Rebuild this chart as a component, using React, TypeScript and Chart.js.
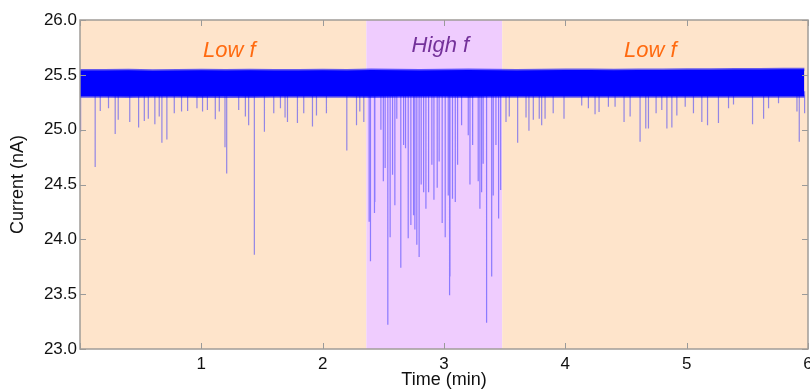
import React, { useEffect, useRef } from 'react';
import { Chart, registerables } from 'chart.js';

Chart.register(...registerables);

// ---- data ----
const xTickValues = [0, 1, 2, 3, 4, 5, 6];
const yTickValues = [23.0, 23.5, 24.0, 24.5, 25.0, 25.5, 26.0];

const regionStart = [0, 2.36, 3.48];
const regionEnd = [2.36, 3.48, 6];
const regionKind = ['low', 'high', 'low'];

const labelText = ['Low f', 'High f', 'Low f'];
const labelTime = [1.23, 2.97, 4.7];
const labelCurrent = [25.72, 25.76, 25.72];

// envelope of the dense noise band (min)
const bandTime = [
  0, 0.2, 0.4, 0.6, 0.8, 1.0, 1.2, 1.4, 1.6, 1.8, 2.0, 2.2, 2.4, 2.6, 2.8, 3.0,
  3.2, 3.4, 3.6, 3.8, 4.0, 4.2, 4.4, 4.6, 4.8, 5.0, 5.2, 5.4, 5.6, 5.8, 5.97,
];
const bandUpper = [
  25.54, 25.54, 25.542, 25.538, 25.54, 25.542, 25.54, 25.542, 25.54, 25.54, 25.542,
  25.54, 25.544, 25.542, 25.54, 25.542, 25.544, 25.542, 25.54, 25.542, 25.544, 25.544,
  25.542, 25.544, 25.544, 25.546, 25.546, 25.548, 25.548, 25.55, 25.55,
];
const bandLower = [
  25.305, 25.305, 25.302, 25.305, 25.305, 25.303, 25.305, 25.302, 25.305, 25.304, 25.305,
  25.304, 25.302, 25.305, 25.304, 25.305, 25.302, 25.305, 25.305, 25.304, 25.305, 25.304,
  25.305, 25.304, 25.305, 25.305, 25.304, 25.305, 25.305, 25.304, 25.305,
];

// downward spikes: time (min) and lowest current (nA)
const spikeTime = [
  0.005, 0.125, 0.167, 0.235, 0.29, 0.315, 0.41, 0.483, 0.53, 0.563, 0.617, 0.653,
  0.675, 0.716, 0.777, 0.837, 0.887, 0.964, 1.01, 1.05, 1.115, 1.148, 1.195, 1.209,
  1.308, 1.363, 1.39, 1.437, 1.52, 1.597, 1.652, 1.69, 1.71, 1.792, 1.844, 1.916,
  1.949, 2.031, 2.199, 2.279, 2.306, 2.339,
  2.383, 2.394, 2.427, 2.43, 2.48, 2.5, 2.515, 2.537, 2.556, 2.576, 2.595, 2.611,
  2.644, 2.667, 2.683, 2.705, 2.727, 2.749, 2.76, 2.776, 2.795, 2.812, 2.832, 2.851,
  2.873, 2.9, 2.917, 2.944, 2.96, 2.985, 3.01, 3.035, 3.046, 3.049, 3.07, 3.093,
  3.112, 3.145, 3.2, 3.214, 3.236, 3.282, 3.296, 3.31, 3.323, 3.351, 3.393, 3.406,
  3.428, 3.45, 3.467,
  3.511, 3.538, 3.607, 3.676, 3.7, 3.736, 3.785, 3.805, 3.833, 3.9, 3.989, 4.135,
  4.19, 4.245, 4.278, 4.355, 4.41, 4.484, 4.534, 4.616, 4.663, 4.685, 4.748, 4.795,
  4.837, 4.878, 4.919, 4.988, 5.056, 5.125, 5.172, 5.262, 5.345, 5.386, 5.543, 5.634,
  5.675, 5.757, 5.909, 5.928, 5.972,
];
const spikeMin = [
  24.98, 24.66, 25.17, 25.195, 24.96, 25.09, 25.07, 25.02, 25.08, 25.1, 25.05, 25.12,
  24.88, 24.91, 25.15, 25.165, 25.17, 25.195, 25.165, 25.18, 25.095, 25.165, 24.84, 24.6,
  25.18, 25.12, 25.04, 23.86, 24.98, 25.15, 25.195, 25.11, 25.07, 25.06, 25.15, 25.03,
  25.13, 25.15, 24.81, 25.04, 25.165, 25.07,
  24.16, 23.8, 24.24, 24.34, 25.0, 24.53, 24.65, 23.22, 24.02, 24.59, 24.31, 25.1,
  23.74, 24.86, 24.83, 24.01, 24.13, 24.22, 24.09, 23.95, 23.84, 24.5, 24.43, 24.28,
  24.43, 24.68, 24.36, 24.47, 24.71, 24.15, 24.02, 24.4, 23.49, 23.66, 24.37, 24.34,
  24.68, 25.04, 24.95, 24.5, 24.86, 24.53, 24.28, 24.43, 24.69, 23.24, 23.66, 24.4,
  24.86, 24.19, 24.45,
  25.07, 25.12, 24.88, 25.11, 24.99, 25.09, 25.1, 25.04, 25.1, 25.15, 25.1, 25.22,
  25.195, 25.14, 25.16, 25.21, 25.21, 25.07, 25.12, 24.89, 25.01, 25.01, 25.15, 25.18,
  25.01, 25.02, 25.13, 25.21, 25.15, 25.07, 25.04, 25.06, 25.195, 25.23, 25.05, 25.1,
  25.195, 25.24, 25.165, 24.89, 25.15,
];
const spikeBase = 25.35;

const FONT = "'Liberation Sans', Arial, Helvetica, sans-serif";

export default function App() {
  const ref = useRef<HTMLCanvasElement | null>(null);

  useEffect(() => {
    const canvas = ref.current;
    if (!canvas) return;

    const spikeData: any[] = [];
    spikeTime.forEach((t, i) => {
      spikeData.push({ x: t, y: spikeBase });
      spikeData.push({ x: t, y: spikeMin[i] });
      spikeData.push({ x: t, y: null });
    });

    const regionPlugin = {
      id: 'regions',
      beforeDatasetsDraw(chart: any) {
        const { ctx, chartArea, scales } = chart;
        const xs = scales.x;
        ctx.save();
        regionStart.forEach((s, i) => {
          const x0 = xs.getPixelForValue(s);
          const x1 = xs.getPixelForValue(regionEnd[i]);
          ctx.fillStyle = regionKind[i] === 'high' ? '#EFCCFE' : '#FEE4CB';
          ctx.fillRect(x0, chartArea.top, x1 - x0, chartArea.bottom - chartArea.top);
        });
        ctx.restore();
      },
      afterDatasetsDraw(chart: any) {
        const { ctx, scales } = chart;
        ctx.save();
        ctx.font = `italic 22px ${FONT}`;
        ctx.textAlign = 'center';
        ctx.textBaseline = 'middle';
        labelText.forEach((txt, i) => {
          ctx.fillStyle = regionKind[i] === 'high' ? '#74319A' : '#FF6A10';
          ctx.fillText(txt, scales.x.getPixelForValue(labelTime[i]), scales.y.getPixelForValue(labelCurrent[i]));
        });
        ctx.restore();
      },
      afterDraw(chart: any) {
        const { ctx, chartArea, scales } = chart;
        const { left, right, top, bottom } = chartArea;
        ctx.save();
        ctx.strokeStyle = '#9a9a9a';
        ctx.lineWidth = 1;
        ctx.beginPath();
        xTickValues.forEach((v) => {
          const x = Math.round(scales.x.getPixelForValue(v)) + 0.5;
          ctx.moveTo(x, bottom);
          ctx.lineTo(x, bottom - 6);
          ctx.moveTo(x, top);
          ctx.lineTo(x, top + 6);
        });
        yTickValues.forEach((v) => {
          const y = Math.round(scales.y.getPixelForValue(v)) + 0.5;
          ctx.moveTo(left, y);
          ctx.lineTo(left + 6, y);
          ctx.moveTo(right, y);
          ctx.lineTo(right - 6, y);
        });
        ctx.stroke();
        ctx.strokeStyle = '#a09c98';
        ctx.lineWidth = 1.5;
        ctx.strokeRect(left, top, right - left, bottom - top);
        ctx.restore();
      },
    };

    const chart = new Chart(canvas, {
      type: 'line',
      data: {
        datasets: [
          {
            label: 'upper',
            data: bandTime.map((t, i) => ({ x: t, y: bandUpper[i] })),
            borderColor: 'rgba(0,0,255,0.6)',
            borderWidth: 3,
            backgroundColor: '#0000FF',
            pointRadius: 0,
            fill: '+1',
            tension: 0,
          },
          {
            label: 'lower',
            data: bandTime.map((t, i) => ({ x: t, y: bandLower[i] })),
            borderColor: 'rgba(0,0,255,0.6)',
            borderWidth: 3,
            pointRadius: 0,
            fill: false,
            tension: 0,
          },
          {
            label: 'spikes',
            data: spikeData,
            borderColor: 'rgba(40,40,255,0.5)',
            borderWidth: 1.2,
            pointRadius: 0,
            fill: false,
            spanGaps: false,
          },
        ],
      },
      options: {
        animation: false,
        responsive: false,
        maintainAspectRatio: false,
        events: [],
        layout: { padding: { top: 20, right: 22, left: 0, bottom: 0 } },
        plugins: { legend: { display: false }, tooltip: { enabled: false } },
        scales: {
          x: {
            type: 'linear',
            min: 0,
            max: 6,
            afterFit: (s: any) => {
              s.height = 40;
            },
            afterBuildTicks: (s: any) => {
              s.ticks = xTickValues.map((v) => ({ value: v }));
            },
            border: { display: false },
            grid: { display: false, drawTicks: false },
            ticks: {
              padding: 5,
              color: '#111',
              font: { family: FONT, size: 17 },
              callback: (v: any) => (v === 0 ? '' : String(v)),
              maxRotation: 0,
            },
            title: {
              display: true,
              text: 'Time (min)',
              color: '#111',
              font: { family: FONT, size: 18, lineHeight: 1 },
              padding: { top: 0, bottom: 0 },
            },
          },
          y: {
            type: 'linear',
            min: 23,
            max: 26,
            afterFit: (s: any) => {
              s.width = 80;
            },
            afterBuildTicks: (s: any) => {
              s.ticks = yTickValues.map((v) => ({ value: v }));
            },
            border: { display: false },
            grid: { display: false, drawTicks: false },
            ticks: {
              padding: 3,
              color: '#111',
              font: { family: FONT, size: 17 },
              callback: (v: any) => Number(v).toFixed(1),
            },
            title: {
              display: true,
              text: 'Current (nA)',
              color: '#111',
              font: { family: FONT, size: 18, lineHeight: 1 },
              padding: { top: 9, bottom: 0 },
            },
          },
        },
      },
      plugins: [regionPlugin],
    });

    return () => chart.destroy();
  }, []);

  return (
    <div style={{ position: 'fixed', left: 0, top: 0, width: 810, height: 389, overflow: 'hidden', background: '#fff' }}>
      <canvas ref={ref} width={830} height={389} style={{ display: 'block' }} />
    </div>
  );
}
